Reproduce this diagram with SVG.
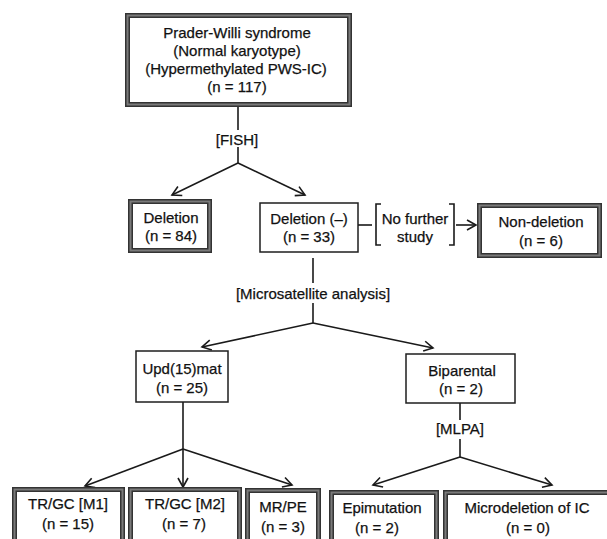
<svg xmlns="http://www.w3.org/2000/svg" width="607" height="539" viewBox="0 0 607 539">
<defs>
<marker id="arr" markerWidth="12" markerHeight="12" refX="10" refY="6" orient="auto" markerUnits="userSpaceOnUse">
<path d="M1,1 L10,6 L1,11" fill="none" stroke="#1a1a1a" stroke-width="1.6"/>
</marker>
<style>
text{font-family:"Liberation Sans",Arial,sans-serif;font-size:15px;fill:#111;stroke:#111;stroke-width:0.25;text-anchor:middle}
.thick .o{fill:#fff;stroke:#333;stroke-width:5}
.thick .i{fill:none;stroke:#7a7a7a;stroke-width:2}
.thin rect{fill:#fff;stroke:#1e1e1e;stroke-width:1.5}
.c line,.c path{stroke:#1a1a1a;stroke-width:1.6;fill:none}
</style>
</defs>
<rect width="607" height="539" fill="#fff"/>
<g class="c" id="connectors">
<line x1="238" y1="107" x2="238" y2="130"/>
<line x1="238" y1="147" x2="238" y2="163"/>
<line x1="238" y1="163" x2="172" y2="195" marker-end="url(#arr)"/>
<line x1="238" y1="163" x2="305" y2="195" marker-end="url(#arr)"/>
<line x1="358" y1="225" x2="372" y2="225"/>
<path d="M381,204 H376 V245 H381"/>
<path d="M449,204 H454 V245 H449"/>
<line x1="456" y1="225" x2="476" y2="225" marker-end="url(#arr)"/>
<line x1="313" y1="258" x2="313" y2="283"/>
<line x1="313" y1="303" x2="313" y2="323"/>
<line x1="313" y1="323" x2="202" y2="347" marker-end="url(#arr)"/>
<line x1="313" y1="323" x2="433" y2="348" marker-end="url(#arr)"/>
<line x1="183" y1="402" x2="183" y2="449"/>
<line x1="183" y1="449" x2="85" y2="486" marker-end="url(#arr)"/>
<line x1="183" y1="449" x2="183" y2="487" marker-end="url(#arr)"/>
<line x1="183" y1="449" x2="292" y2="485" marker-end="url(#arr)"/>
<line x1="460" y1="403" x2="460" y2="420"/>
<line x1="460" y1="439" x2="460" y2="457"/>
<line x1="460" y1="457" x2="373" y2="485" marker-end="url(#arr)"/>
<line x1="460" y1="457" x2="552" y2="485" marker-end="url(#arr)"/>
<text x="237" y="145">[FISH]</text>
<text x="415" y="224">No further</text>
<text x="415" y="242">study</text>
<text x="313" y="299">[Microsatellite analysis]</text>
<text x="460" y="434">[MLPA]</text>
</g>
<g id="pws" class="thick">
<rect class="o" x="127.5" y="15.5" width="222" height="89"/>
<rect class="i" x="127.5" y="15.5" width="222" height="89"/>
<text x="237" y="38">Prader-Willi syndrome</text>
<text x="237" y="56">(Normal karyotype)</text>
<text x="236" y="74">(Hypermethylated PWS-IC)</text>
<text x="237" y="92">(n = 117)</text>
</g>
<g id="deletion" class="thick">
<rect class="o" x="130.5" y="201.5" width="79" height="49"/>
<rect class="i" x="130.5" y="201.5" width="79" height="49"/>
<text x="171" y="223">Deletion</text>
<text x="171" y="241">(n = 84)</text>
</g>
<g id="deletion-neg" class="thin">
<rect x="260" y="203" width="98" height="49"/>
<text x="309" y="224">Deletion (–)</text>
<text x="309" y="242">(n = 33)</text>
</g>
<g id="nondeletion" class="thick">
<rect class="o" x="479.5" y="205.5" width="120" height="50"/>
<rect class="i" x="479.5" y="205.5" width="120" height="50"/>
<text x="541" y="227">Non-deletion</text>
<text x="541" y="246">(n = 6)</text>
</g>
<g id="upd" class="thin">
<rect x="136" y="351" width="92" height="51"/>
<text x="182" y="374">Upd(15)mat</text>
<text x="182" y="393">(n = 25)</text>
</g>
<g id="biparental" class="thin">
<rect x="406" y="354" width="109" height="49"/>
<text x="462" y="376">Biparental</text>
<text x="461" y="394">(n = 2)</text>
</g>
<g id="m1" class="thick">
<rect class="o" x="14.5" y="489.5" width="108" height="60"/>
<rect class="i" x="14.5" y="489.5" width="108" height="60"/>
<text x="68" y="509">TR/GC [M1]</text>
<text x="68" y="529">(n = 15)</text>
</g>
<g id="m2" class="thick">
<rect class="o" x="130.5" y="489.5" width="109" height="60"/>
<rect class="i" x="130.5" y="489.5" width="109" height="60"/>
<text x="185" y="509">TR/GC [M2]</text>
<text x="184" y="529">(n = 7)</text>
</g>
<g id="mrpe" class="thick">
<rect class="o" x="247.5" y="490.5" width="71" height="60"/>
<rect class="i" x="247.5" y="490.5" width="71" height="60"/>
<text x="283" y="512">MR/PE</text>
<text x="283" y="532">(n = 3)</text>
</g>
<g id="epimutation" class="thick">
<rect class="o" x="331.5" y="492.5" width="105" height="60"/>
<rect class="i" x="331.5" y="492.5" width="105" height="60"/>
<text x="382" y="513">Epimutation</text>
<text x="377" y="533">(n = 2)</text>
</g>
<g id="microdeletion" class="thick">
<rect class="o" x="445.5" y="492.5" width="170" height="60"/>
<rect class="i" x="445.5" y="492.5" width="170" height="60"/>
<text x="527" y="513">Microdeletion of IC</text>
<text x="528" y="533">(n = 0)</text>
</g>
</svg>
